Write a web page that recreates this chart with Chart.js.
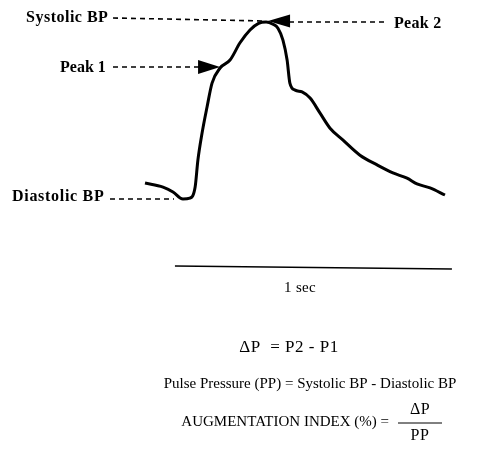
<!DOCTYPE html>
<html><head><meta charset="utf-8">
<script src="https://cdn.jsdelivr.net/npm/chart.js@4/dist/chart.umd.min.js"></script>
<style>html,body{margin:0;padding:0;background:#fff;overflow:hidden}canvas{display:block}</style>
</head><body>
<canvas id="c" width="490" height="463"></canvas>
<script>
// Time (s) from start of trace, pressure (arbitrary mmHg-like units)
const time = [0.000,0.065,0.101,0.137,0.162,0.181,0.191,0.206,0.224,0.242,0.271,0.307,0.343,0.379,0.410,0.437,0.462,0.480,0.498,0.513,0.523,0.542,0.567,0.596,0.632,0.668,0.715,0.776,0.838,0.895,0.946,0.982,1.029,1.083];
const pressure = [83.6,82.7,81.6,80.0,80.2,82.7,88.8,94.9,100.8,106.2,109.6,111.4,115.3,118.2,119.7,120.0,119.5,118.6,115.9,111.4,106.2,104.6,104.2,102.8,99.4,96.0,93.3,89.9,87.7,85.9,84.7,83.4,82.5,80.9];
const peak1Index = 10;
const scaleBarStart = 0.108;   // s
const scaleBarLength = 1;      // s
const scaleBarLabel = '1 sec';
const labelSystolic = 'Systolic BP';
const labelDiastolic = 'Diastolic BP';
const labelPeak1 = 'Peak 1';
const labelPeak2 = 'Peak 2';
const formula1 = 'ΔP  = P2 - P1';
const formula2 = 'Pulse Pressure (PP) = Systolic BP - Diastolic BP';
const formula3 = 'AUGMENTATION INDEX (%) =';
const fracNum = 'ΔP';
const fracDen = 'PP';

const X_MIN = -0.5235, X_MAX = 1.2455, Y_MIN = 20.34, Y_MAX = 124.97;
const SERIF = '"Liberation Serif","Times New Roman",serif';

const peak2Index = pressure.indexOf(Math.max(...pressure));
const diaIndex = pressure.indexOf(Math.min(...pressure));

const annot = {
  id: 'annot',
  afterDatasetsDraw(chart) {
    const ctx = chart.ctx, xs = chart.scales.x, ys = chart.scales.y;
    ctx.save();
    ctx.fillStyle = '#000'; ctx.strokeStyle = '#000';
    const dash = (x1, y1, x2, y2) => {
      ctx.save(); ctx.setLineDash([5, 4]); ctx.lineWidth = 1.6;
      ctx.beginPath(); ctx.moveTo(x1, y1); ctx.lineTo(x2, y2); ctx.stroke(); ctx.restore();
    };
    const tri = (tx, ty, dir, len, hh) => {
      ctx.beginPath(); ctx.moveTo(tx, ty); ctx.lineTo(tx - dir * len, ty - hh); ctx.lineTo(tx - dir * len, ty + hh); ctx.closePath(); ctx.fill();
    };
    const text = (s, x, y, ls) => {
      ctx.letterSpacing = (ls || 0) + 'px';
      ctx.fillText(s, x, y);
      ctx.letterSpacing = '0px';
    };
    // Systolic / Peak 2
    const p2x = xs.getPixelForValue(time[peak2Index]);
    const p2y = ys.getPixelForValue(pressure[peak2Index]);
    dash(113, p2y - 4, p2x - 2, p2y - 1);
    dash(289, p2y, 388, p2y);
    tri(p2x + 2, p2y - 1, -1, 22, 6.5);
    // Peak 1
    const p1x = xs.getPixelForValue(time[peak1Index]);
    const p1y = ys.getPixelForValue(pressure[peak1Index]);
    dash(113, p1y - 1, p1x - 20, p1y - 1);
    tri(p1x, p1y - 1, 1, 22, 7);
    // Diastolic
    const dy = ys.getPixelForValue(pressure[diaIndex]);
    dash(110, dy, xs.getPixelForValue(time[diaIndex]) - 9, dy);

    ctx.font = 'bold 16px ' + SERIF;
    ctx.textBaseline = 'middle';
    ctx.textAlign = 'left';
    text(labelSystolic, 26, 18, 0.5);
    text(labelPeak1, 60, 68, 0);
    text(labelDiastolic, 12, 197, 0.7);
    text(labelPeak2, 394, 24, 0.3);

    // Scale bar
    const sx1 = xs.getPixelForValue(scaleBarStart);
    const sx2 = xs.getPixelForValue(scaleBarStart + scaleBarLength);
    ctx.lineWidth = 1.3;
    ctx.beginPath(); ctx.moveTo(sx1, 266); ctx.lineTo(sx2, 269); ctx.stroke();
    ctx.font = '15px ' + SERIF;
    ctx.textAlign = 'center';
    text(scaleBarLabel, 300, 288, 0.3);

    // Formulas
    ctx.font = '17px ' + SERIF;
    text(formula1, 289, 348, 0.5);
    ctx.font = '15px ' + SERIF;
    text(formula2, 310, 384, 0);
    ctx.textAlign = 'right';
    text(formula3, 389, 422, 0);
    ctx.textAlign = 'center';
    ctx.font = '16px ' + SERIF;
    text(fracNum, 420, 410, 0.5);
    text(fracDen, 420, 436, 0.5);
    ctx.lineWidth = 1;
    ctx.beginPath(); ctx.moveTo(398, 423); ctx.lineTo(442, 423); ctx.stroke();
    ctx.restore();
  }
};

new Chart(document.getElementById('c'), {
  type: 'line',
  data: { datasets: [{
    data: time.map((t, i) => ({ x: t, y: pressure[i] })),
    borderColor: '#000', borderWidth: 3, pointRadius: 0,
    cubicInterpolationMode: 'monotone', fill: false
  }]},
  options: {
    responsive: false, animation: false, events: [],
    layout: { padding: 0 },
    plugins: { legend: { display: false }, tooltip: { enabled: false } },
    scales: {
      x: { type: 'linear', min: X_MIN, max: X_MAX, display: false },
      y: { type: 'linear', min: Y_MIN, max: Y_MAX, display: false }
    }
  },
  plugins: [annot]
});
</script>
</body></html>
